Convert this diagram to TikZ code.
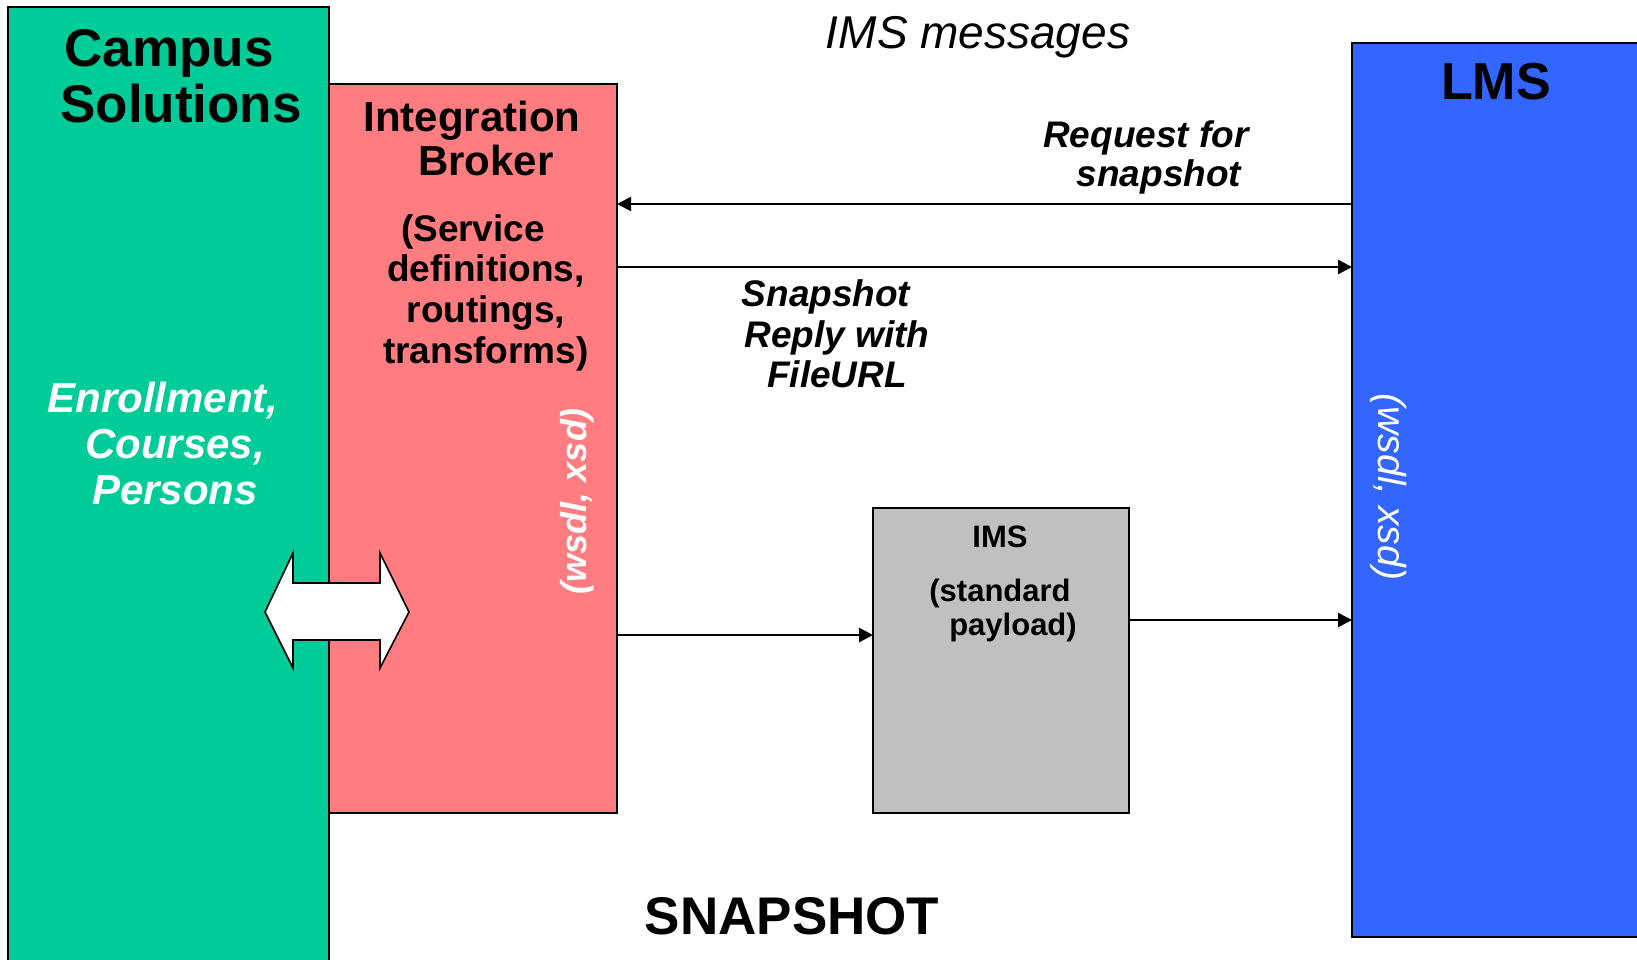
\documentclass[tikz,border=0pt]{standalone}
\usepackage{fontspec}
\setmainfont{Liberation Sans}
\usetikzlibrary{arrows.meta}
\definecolor{csgreen}{RGB}{0,204,153}
\definecolor{ibpink}{RGB}{255,124,128}
\definecolor{lmsblue}{RGB}{51,102,255}
\definecolor{imsgray}{RGB}{192,192,192}
\newcommand{\fs}[2]{\fontsize{#1}{#2}\selectfont}
\begin{document}
\begin{tikzpicture}[x=1pt,y=-1pt,
  box/.style={draw=black, line width=1.8pt, inner sep=0pt, outer sep=0pt, anchor=north west},
  arr/.style={line width=2.8pt, -{Triangle[length=14pt,width=14pt]}},
  lbl/.style={anchor=base, inner sep=0pt, font=\bfseries}]
\clip (0,0) rectangle (1637,959);
\fill[white] (0,0) rectangle (1637,959);
% boxes
\node[box, fill=csgreen, minimum width=321, minimum height=990] (cs) at (8,7) {};
\node[box, fill=ibpink, minimum width=288, minimum height=729] (ib) at (329,84) {};
\node[box, fill=lmsblue, minimum width=330, minimum height=894] (lms) at (1352,43) {};
\node[box, fill=imsgray, minimum width=256, minimum height=305] (ims) at (873,508) {};
% helper coordinates for arrow heights
\coordinate (y1) at (0,204);
\coordinate (y2) at (0,267);
\coordinate (y3) at (0,635);
\coordinate (y4) at (0,620);
\draw[arr, line width=2pt] (lms.west |- y1) -- (ib.east |- y1);
\draw[arr] (ib.east |- y2) -- (lms.west |- y2);
\draw[arr] (ib.east |- y3) -- (ims.west |- y3);
\draw[arr] (ims.east |- y4) -- (lms.west |- y4);
% double arrow
\draw[fill=white, line width=1.6pt, line join=miter]
  (265,612) -- (293,553) -- (293,583) -- (380,583) -- (380,553) -- (409,612)
  -- (380,668) -- (380,640) -- (293,640) -- (293,668) -- cycle;
% Campus Solutions
\node[lbl, font=\bfseries\fs{53}{56}] (cs1) at (169,66) {Campus};
\node[lbl, font=\bfseries\fs{53}{56}] (cs2) at (181,122) {Solutions};
\node[lbl, font=\bfseries\itshape\fs{42}{46}, text=white] (en1) at (163,412) {Enrollment,};
\node[lbl, font=\bfseries\itshape\fs{42}{46}, text=white] (en2) at (175,458) {Courses,};
\node[lbl, font=\bfseries\itshape\fs{42}{46}, text=white] (en3) at (175,504) {Persons};
% Integration Broker
\node[lbl, font=\bfseries\fs{42}{44}] (ib1) at (472,131) {Integration};
\node[lbl, font=\bfseries\fs{42}{44}] (ib2) at (486,175) {Broker};
\node[lbl, font=\bfseries\fs{37}{40}] (sd1) at (473,241) {(Service};
\node[lbl, font=\bfseries\fs{37}{40}] (sd2) at (486,281) {definitions,};
\node[lbl, font=\bfseries\fs{37}{40}] (sd3) at (486,322) {routings,};
\node[lbl, font=\bfseries\fs{37}{40}] (sd4) at (486,363) {transforms)};
\node[inner sep=0pt, rotate=90, text=white, font=\bfseries\itshape\fs{36}{40}] (ibw) at (577,501) {(wsdl, xsd)};
% LMS
\node[lbl, font=\bfseries\fs{52}{56}] (lmst) at (1496,99) {LMS};
\node[inner sep=0pt, rotate=-90, text=white, font=\itshape\fs{39}{42}] (lmsw) at (1389,487) {(wsdl, xsd)};
% messages
\node[lbl, font=\itshape\fs{46}{50}] (msg) at (978,48) {IMS messages};
\node[lbl, font=\bfseries\itshape\fs{37}{40}] (rq1) at (1146,147) {Request for};
\node[lbl, font=\bfseries\itshape\fs{37}{40}] (rq2) at (1159,186) {snapshot};
\node[lbl, font=\bfseries\itshape\fs{37}{40}] (rp1) at (826,306) {Snapshot};
\node[lbl, font=\bfseries\itshape\fs{37}{40}] (rp2) at (837,347) {Reply with};
\node[lbl, font=\bfseries\itshape\fs{37}{40}] (rp3) at (837,387) {FileURL};
% IMS box
\node[lbl, font=\bfseries\fs{31}{34}] (ims1) at (1000,547) {IMS};
\node[lbl, font=\bfseries\fs{31}{34}] (ims2) at (1000,601) {(standard};
\node[lbl, font=\bfseries\fs{31}{34}] (ims3) at (1013,635) {payload)};
% SNAPSHOT
\node[lbl, font=\bfseries\fs{53}{56}] (snap) at (792,934) {SNAPSHOT};
\end{tikzpicture}
\end{document}
